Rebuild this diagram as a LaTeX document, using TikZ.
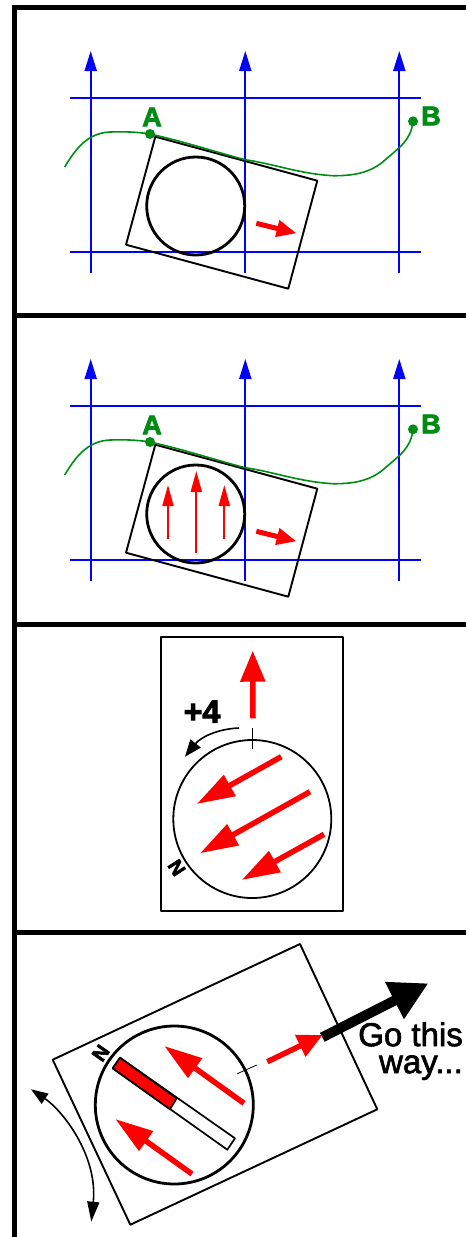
\documentclass[tikz,border=0pt]{standalone}
\usepackage{fontspec}
\setmainfont{Liberation Sans}
\newfontfamily\boldlabel[FakeBold=3]{Liberation Sans Bold}
\newfontfamily\wordlabel[FakeBold=2]{Liberation Sans}
\usetikzlibrary{arrows.meta,calc,positioning}
\definecolor{trackgreen}{RGB}{0,140,20}
\tikzset{
    panel bar/.style={line width=5pt, black},
    grid line/.style={blue, line width=2pt},
    grid north/.style={blue, line width=2pt, -{Triangle[length=20pt,width=12pt]}},
    map sheet/.style={draw=black, line width=1.9pt, line join=round},
    bezel/.style={draw=black, line width=2.8pt},
    track/.style={trackgreen, line width=1.6pt},
    track dot/.style={circle, fill=trackgreen, inner sep=0pt, minimum size=10pt},
    track label/.style={text=trackgreen, font=\boldlabel\fontsize{27}{27}\selectfont, inner sep=0pt},
    red small/.style={red, line width=5pt, -{Triangle[length=20pt,width=16pt]}},
    red thin/.style={red, line width=2pt, -{Triangle[length=21pt,width=11pt]}},
    red big/.style={red, line width=5.5pt, -{Triangle[length=38pt,width=23pt]}},
    turn/.style={black, line width=1.6pt},
    tick/.style={black, line width=0.8pt}
}

\begin{document}
\begin{tikzpicture}[x=1pt,y=-1pt]
    \useasboundingbox (0,0) rectangle (466,1237);

    % frame
    \draw[panel bar] (14.5,1237) -- (14.5,7.5) -- (466,7.5);
    \foreach \y in {315.5,624.5,932.5} {
        \draw[panel bar] (14.5,\y) -- (466,\y);
    }

    % first two panels share the same map
    \foreach \dy/\pn in {0/one,308/two} {
        \begin{scope}[yshift=-\dy pt]
            \foreach \x in {90.7,245.3,399.3} {
                \draw[grid north] (\x,272.7) -- (\x,51);
            }
            \foreach \y in {98,252} {
                \draw[grid line] (70,\y) -- (420.7,\y);
            }
            \draw[map sheet] (155.3,136.7) -- (317.3,180.7) -- (288.3,288.7) -- (126,244.7) -- cycle;
            \node[bezel, circle, inner sep=0pt, minimum size=98pt] (dial\pn) at (195.7,206) {};
            \coordinate (from\pn) at (256.3,223.3);
            \coordinate (to\pn) at (296.7,233.3);
            \draw[red small] (from\pn) -- (to\pn);
            \node[track dot] (a\pn) at (150,134) {};
            \node[track dot] (b\pn) at (413,121.3) {};
            \draw[track] (64.7,167) .. controls (76,148) and (88,133) .. (110,132)
                .. controls (125,131.5) and (138,132) .. (a\pn.center)
                .. controls (190,143) and (225,155) .. (246.7,160)
                .. controls (270,163) and (300,174) .. (333,175.7)
                .. controls (355,176) and (372,172) .. (385,160)
                .. controls (400,147) and (411,140) .. (b\pn.center);
            \node[track label] at (152,117) {A};
            \node[track label] at (431,116) {B};
        \end{scope}
    }

    % needle lines in the second panel
    \foreach \x/\ya/\yb in {168/539/485,196.3/553.3/471,224.3/539/485} {
        \coordinate (n1) at (\x,\ya);
        \coordinate (n2) at (\x,\yb);
        \draw[red thin] (n1) -- (n2);
    }

    % third panel
    \draw[map sheet] (161,637.3) rectangle (343.3,910.7);
    \node[bezel, circle, line width=1.8pt, inner sep=0pt, minimum size=158pt] (dialthree) at (252.3,819) {};
    \draw[tick] (252,728.3) -- (252,749.3);
    \draw[red, line width=5.5pt, -{Triangle[length=31pt,width=24pt]}] (253,718.3) -- (252.7,650.7);
    \foreach \ax/\ay/\bx/\by in {281.3/756.7/196.7/804,310/791.7/200/853.3,324/834.3/241.7/880} {
        \coordinate (s) at (\ax,\ay);
        \coordinate (e) at (\bx,\by);
        \draw[red big] (s) -- (e);
    }
    \draw[turn, -{Triangle[length=17pt,width=13pt]}] (239,728) .. controls (216,729) and (200,738) .. (185,756.7);
    \node[font=\boldlabel\fontsize{32}{32}\selectfont, inner sep=0pt] (plusfour) at (202,711.7) {+4};
    \node[font=\boldlabel\fontsize{20}{20}\selectfont, inner sep=0pt, rotate=123] (norththree) at (176.7,867.7) {N};

    % fourth panel
    \draw[map sheet] (300,944) -- (377.3,1109.3) -- (130.3,1224.7) -- (52.7,1059.7) -- cycle;
    \node[bezel, circle, inner sep=0pt, minimum size=158pt] (dialfour) at (174.3,1105) {};
    \node[font=\boldlabel\fontsize{20}{20}\selectfont, inner sep=0pt, rotate=55] (northfour) at (100.7,1053) {N};
    \draw[black, line width=1.7pt, fill=white, line join=round] (120,1057.7) -- (235,1138.3) -- (227.3,1149.7) -- (112.7,1068.3) -- cycle;
    \draw[black, line width=1.7pt, fill=red, line join=round] (120,1057.7) -- (176.7,1098.3) -- (170,1109.3) -- (112.7,1068.3) -- cycle;
    \foreach \ax/\ay/\bx/\by in {244/1103.3/164.3/1046,192/1174/115.3/1119} {
        \coordinate (s) at (\ax,\ay);
        \coordinate (e) at (\bx,\by);
        \draw[red big] (s) -- (e);
    }
    \draw[tick] (237.3,1073.7) -- (256.7,1065);
    \coordinate (gostart) at (322.3,1037.3);
    \coordinate (goend) at (428.3,983.3);
    \draw[black, line width=10pt, -{Triangle[length=38pt,width=39pt]}] (gostart) -- (goend);
    \draw[red, line width=5.5pt, -{Triangle[length=25pt,width=23pt]}] (267.3,1061.7) -- (322.7,1035);
    \node[font=\wordlabel\fontsize{33}{27}\selectfont, align=right, anchor=north east, inner sep=0pt] (gotext) at (463,1022) {Go this\\way...};
    \draw[turn, {Triangle[length=17pt,width=12pt]}-{Triangle[length=20pt,width=12pt]}] (31,1089.3) .. controls (62,1110) and (98,1155) .. (91.3,1221.7);
\end{tikzpicture}
\end{document}
